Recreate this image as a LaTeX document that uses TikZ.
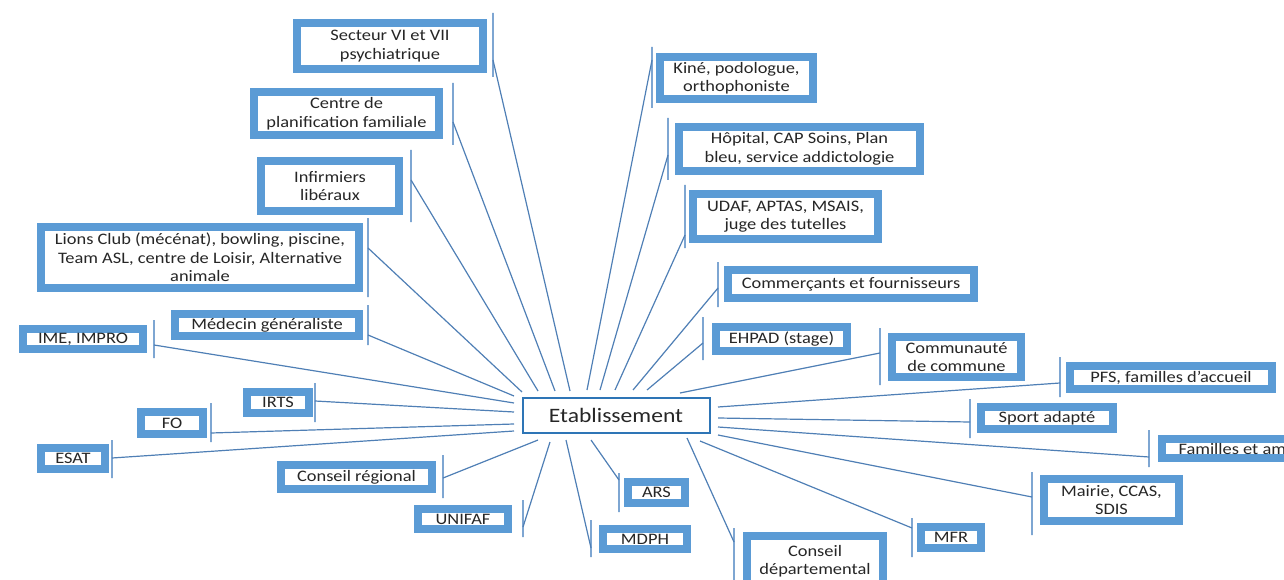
\documentclass[tikz,border=0pt]{standalone}
\usepackage{fontspec}
\setmainfont{Carlito}[FakeStretch=1.15]

\definecolor{boxblue}{HTML}{5B9BD5}
\definecolor{barblue}{HTML}{7EA6D2}
\definecolor{linkblue}{HTML}{4F7FB5}
\definecolor{hubblue}{HTML}{2E75B6}
\definecolor{textgray}{HTML}{262626}

\tikzset{
  partner/.style={draw=boxblue, line width=8pt, fill=white, text=textgray,
    align=center, inner sep=0pt, font=\fontsize{16}{18.5}\selectfont},
  bar/.style={draw=barblue, line width=1.5pt, inner sep=0pt, minimum width=0pt},
  hub/.style={draw=hubblue, line width=2pt, fill=white, text=textgray,
    minimum width=187, minimum height=35, font=\fontsize{20.5}{24}\selectfont}
}

\begin{document}
\begin{tikzpicture}[x=1pt,y=-1pt]

      \clip (0,0) rectangle (1284,580);

      \node[hub] (etab) at (616,415.5) {Etablissement};

      \begin{scope}[every node/.style=partner]
        \node[minimum width=186, minimum height=46] (secteur)     at (390,46)      {Secteur VI et VII\\psychiatrique};
        \node[minimum width=185, minimum height=43] (planif)      at (346.5,113.5) {Centre de\\planification familiale};
        \node[minimum width=138, minimum height=50] (infirm)      at (330,186)     {Infirmiers\\libéraux};
        \node[minimum width=318, minimum height=61] (lions)       at (200,257.5)   {Lions Club (mécénat), bowling, piscine,\\Team ASL, centre de Loisir, Alternative\\animale};
        \node[minimum width=184, minimum height=22] (medecin)     at (267,325)     {Médecin généraliste};
        \node[minimum width=120, minimum height=20] (ime)         at (83,339)      {IME, IMPRO};
        \node[minimum width=62,  minimum height=21] (irts)        at (278,402.5)   {IRTS};
        \node[minimum width=62,  minimum height=22] (fo)          at (172,423)     {FO};
        \node[minimum width=64,  minimum height=21] (esat)        at (73,458.5)    {ESAT};
        \node[minimum width=151, minimum height=24] (cregional)   at (356.5,477)   {Conseil régional};
        \node[minimum width=90,  minimum height=20] (unifaf)      at (463,519)     {UNIFAF};
        \node[minimum width=84,  minimum height=20] (mdph)        at (645,539)     {MDPH};
        \node[minimum width=57,  minimum height=21] (ars)         at (656.5,492.5) {ARS};
        \node[minimum width=136, minimum height=50] (cdepart)     at (815,561)     {Conseil\\départemental};
        \node[minimum width=60,  minimum height=21] (mfr)         at (951,537.5)   {MFR};
        \node[minimum width=135, minimum height=42] (mairie)      at (1111.5,500)  {Mairie, CCAS,\\SDIS};
        \node[minimum width=152, minimum height=19] (familles)    at (1238,448.5)  {Familles et amis};
        \node[minimum width=132, minimum height=22] (sport)       at (1047,418)    {Sport adapté};
        \node[minimum width=202, minimum height=23] (pfs)         at (1171,377.5)  {PFS, familles d’accueil};
        \node[minimum width=129, minimum height=40] (communaute)  at (956.5,357)   {Communauté\\de commune};
        \node[minimum width=131, minimum height=24] (ehpad)       at (781.5,339)   {EHPAD (stage)};
        \node[minimum width=246, minimum height=28] (commercants) at (851,284)     {Commerçants et fournisseurs};
        \node[minimum width=185, minimum height=45] (udaf)        at (785.5,216.5) {UDAF, APTAS, MSAIS,\\juge des tutelles};
        \node[minimum width=241, minimum height=44] (hopital)     at (799.5,149)   {Hôpital, CAP Soins, Plan\\bleu, service addictologie};
        \node[minimum width=153, minimum height=42] (kine)        at (736.5,78)    {Kiné, podologue,\\orthophoniste};
      \end{scope}

      % callout bars beside the boxes
      \begin{scope}[every node/.style=bar]
        \node[minimum height=64] (secteur-bar)     at (493,45)    {};
        \node[minimum height=62] (planif-bar)      at (453,114)   {};
        \node[minimum height=72] (infirm-bar)      at (411,186)   {};
        \node[minimum height=79] (lions-bar)       at (368,257.5) {};
        \node[minimum height=40] (medecin-bar)     at (368,325)   {};
        \node[minimum height=38] (ime-bar)         at (154,339)   {};
        \node[minimum height=39] (irts-bar)        at (315,402.5) {};
        \node[minimum height=39] (fo-bar)          at (211,422.5) {};
        \node[minimum height=38] (esat-bar)        at (112,459)   {};
        \node[minimum height=43] (cregional-bar)   at (443,476.5) {};
        \node[minimum height=37] (unifaf-bar)      at (523,518.5) {};
        \node[minimum height=37] (mdph-bar)        at (591,538.5) {};
        \node[minimum height=39] (ars-bar)         at (619,492.5) {};
        \node[minimum height=62] (cdepart-bar)     at (734,559)   {};
        \node[minimum height=39] (mfr-bar)         at (912,537.5) {};
        \node[minimum height=63] (mairie-bar)      at (1032,503.5) {};
        \node[minimum height=37] (familles-bar)    at (1149,448.5) {};
        \node[minimum height=39] (sport-bar)       at (970,418.5) {};
        \node[minimum height=40] (pfs-bar)         at (1060,377)  {};
        \node[minimum height=57] (communaute-bar)  at (880,356.5) {};
        \node[minimum height=43] (ehpad-bar)       at (703,338.5) {};
        \node[minimum height=45] (commercants-bar) at (718,284.5) {};
        \node[minimum height=63] (udaf-bar)        at (685,216.5) {};
        \node[minimum height=62] (hopital-bar)     at (668,149)   {};
        \node[minimum height=61] (kine-bar)        at (652,77.5)  {};
      \end{scope}

      % where each line leaves its bar, and where it stops near the hub
      \coordinate (secteur-a)     at (493,60);   \coordinate (secteur-z)     at (570,391);
      \coordinate (planif-a)      at (453,122);  \coordinate (planif-z)      at (555,391);
      \coordinate (infirm-a)      at (411,180);  \coordinate (infirm-z)      at (538,391);
      \coordinate (lions-a)       at (368,248);  \coordinate (lions-z)       at (522,392);
      \coordinate (medecin-a)     at (368,335);  \coordinate (medecin-z)     at (514,396);
      \coordinate (ime-a)         at (154,345);  \coordinate (ime-z)         at (514,403);
      \coordinate (irts-a)        at (315,401);  \coordinate (irts-z)        at (514,412);
      \coordinate (fo-a)          at (211,433);  \coordinate (fo-z)          at (514,424);
      \coordinate (esat-a)        at (112,458);  \coordinate (esat-z)        at (514,431);
      \coordinate (cregional-a)   at (443,478);  \coordinate (cregional-z)   at (538,440);
      \coordinate (unifaf-a)      at (523,527);  \coordinate (unifaf-z)      at (550,442);
      \coordinate (mdph-a)        at (591,548);  \coordinate (mdph-z)        at (566,440);
      \coordinate (ars-a)         at (619,480);  \coordinate (ars-z)         at (591,440);
      \coordinate (cdepart-a)     at (734,542);  \coordinate (cdepart-z)     at (687,438);
      \coordinate (mfr-a)         at (912,528);  \coordinate (mfr-z)         at (700,441);
      \coordinate (mairie-a)      at (1032,497); \coordinate (mairie-z)      at (718,435);
      \coordinate (familles-a)    at (1149,457); \coordinate (familles-z)    at (718,427);
      \coordinate (sport-a)       at (970,422);  \coordinate (sport-z)       at (718,418);
      \coordinate (pfs-a)         at (1060,383); \coordinate (pfs-z)         at (718,407);
      \coordinate (communaute-a)  at (880,353);  \coordinate (communaute-z)  at (680,393);
      \coordinate (ehpad-a)       at (703,343);  \coordinate (ehpad-z)       at (647,390);
      \coordinate (commercants-a) at (718,288);  \coordinate (commercants-z) at (633,390);
      \coordinate (udaf-a)        at (685,235);  \coordinate (udaf-z)        at (615,390);
      \coordinate (hopital-a)     at (668,155);  \coordinate (hopital-z)     at (600,390);
      \coordinate (kine-a)        at (652,60);   \coordinate (kine-z)        at (587,390);

      \begin{scope}[every edge/.style={draw=linkblue, line width=1.2pt}]
        \path (secteur-a)     edge (secteur-z);
        \path (planif-a)      edge (planif-z);
        \path (infirm-a)      edge (infirm-z);
        \path (lions-a)       edge (lions-z);
        \path (medecin-a)     edge (medecin-z);
        \path (ime-a)         edge (ime-z);
        \path (irts-a)        edge (irts-z);
        \path (fo-a)          edge (fo-z);
        \path (esat-a)        edge (esat-z);
        \path (cregional-a)   edge (cregional-z);
        \path (unifaf-a)      edge (unifaf-z);
        \path (mdph-a)        edge (mdph-z);
        \path (ars-a)         edge (ars-z);
        \path (cdepart-a)     edge (cdepart-z);
        \path (mfr-a)         edge (mfr-z);
        \path (mairie-a)      edge (mairie-z);
        \path (familles-a)    edge (familles-z);
        \path (sport-a)       edge (sport-z);
        \path (pfs-a)         edge (pfs-z);
        \path (communaute-a)  edge (communaute-z);
        \path (ehpad-a)       edge (ehpad-z);
        \path (commercants-a) edge (commercants-z);
        \path (udaf-a)        edge (udaf-z);
        \path (hopital-a)     edge (hopital-z);
        \path (kine-a)        edge (kine-z);
      \end{scope}

    \end{tikzpicture}
\end{document}
